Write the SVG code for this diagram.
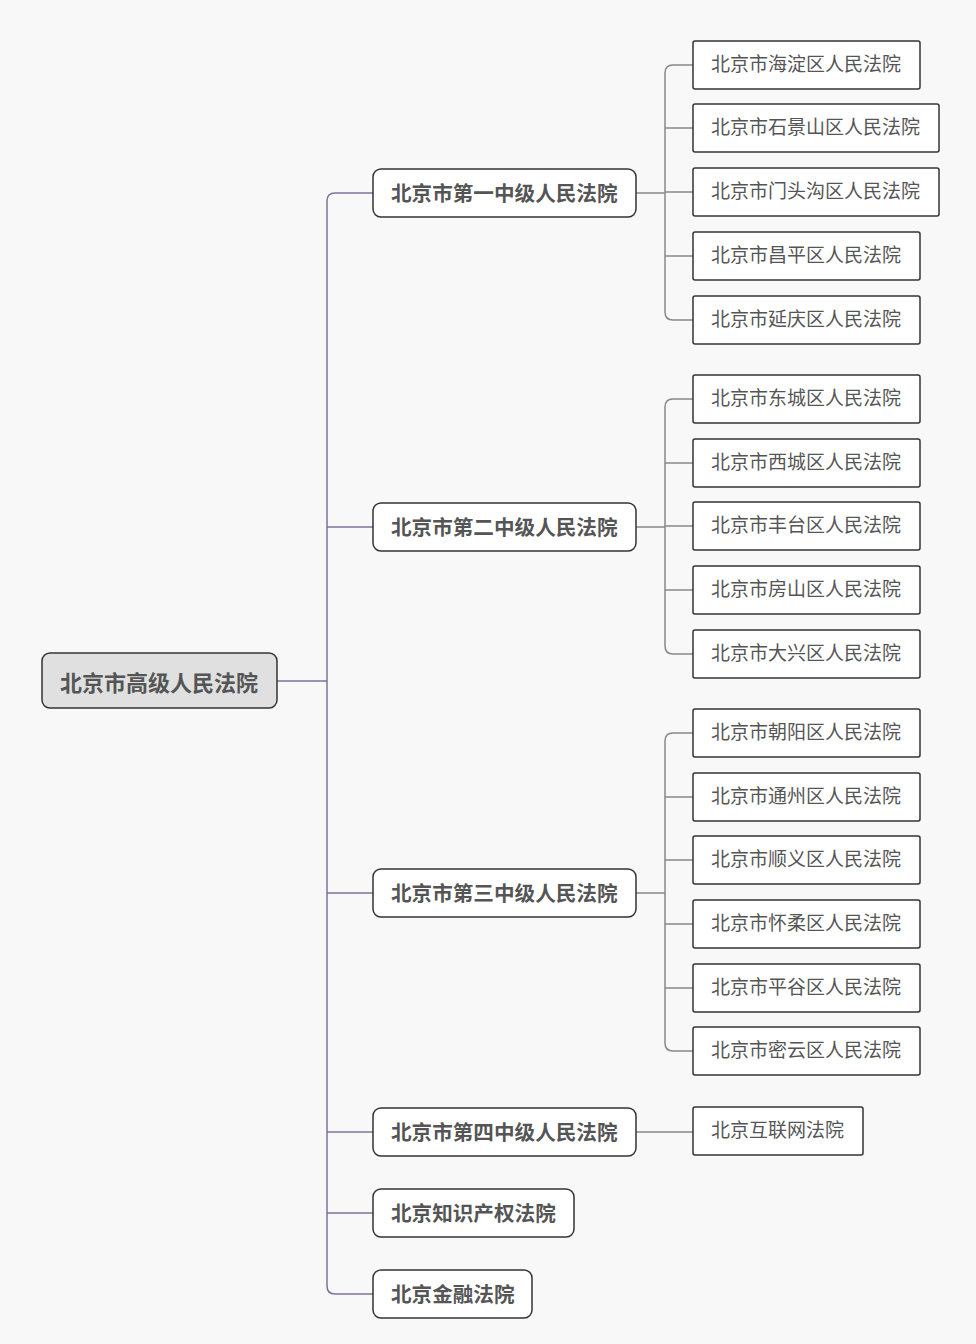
<svg xmlns="http://www.w3.org/2000/svg" width="976" height="1344" viewBox="0 0 976 1344">
<style>
.bg{fill:#f8f8f8}
.root{fill:#e0e0e0;stroke:#333;stroke-width:1.5}
.mid{fill:#fff;stroke:#333;stroke-width:1.5}
.leaf{fill:#fff;stroke:#333;stroke-width:1.5}
text{font-family:"Noto Sans CJK SC","Noto Sans",sans-serif;fill:#555;dominant-baseline:central}
.t0{font-size:22px;font-weight:bold}
.t1{font-size:20.6px;font-weight:bold}
.t2{font-size:19px}
.main{fill:none;stroke:#7d7399;stroke-width:1.5}
.sub{fill:none;stroke:#888;stroke-width:1.5}
</style>
<rect class="bg" width="976" height="1344"/>
<g id="connectors">
<path class="main" d="M277 681H327"/>
<path class="main" d="M373 193H335Q327 193 327 201V1286Q327 1294 335 1294H373"/>
<path class="main" d="M327 527H373M327 893H373M327 1132H373M327 1213H373"/>
<path class="sub" d="M636 193H665M693 65H673Q665 65 665 73V312Q665 320 673 320H693M665 128H693M665 192H693M665 256H693"/>
<path class="sub" d="M636 527H665M693 399H673Q665 399 665 407V646Q665 654 673 654H693M665 463H693M665 526H693M665 590H693"/>
<path class="sub" d="M636 893H665M693 733H673Q665 733 665 741V1043Q665 1051 673 1051H693M665 797H693M665 860H693M665 924H693M665 988H693"/>
<path class="sub" d="M636 1132H693"/>
</g>
<g id="root"><rect class="root" x="42" y="653" width="235" height="55" rx="8"/><text class="t0" x="60" y="681">北京市高级人民法院</text></g>
<g id="m1"><rect class="mid" x="373" y="169" width="263" height="48" rx="8"/><text class="t1" x="391" y="192">北京市第一中级人民法院</text></g>
<g id="m2"><rect class="mid" x="373" y="503" width="263" height="48" rx="8"/><text class="t1" x="391" y="526">北京市第二中级人民法院</text></g>
<g id="m3"><rect class="mid" x="373" y="869" width="263" height="48" rx="8"/><text class="t1" x="391" y="892">北京市第三中级人民法院</text></g>
<g id="m4"><rect class="mid" x="373" y="1108" width="263" height="48" rx="8"/><text class="t1" x="391" y="1131">北京市第四中级人民法院</text></g>
<g id="m5"><rect class="mid" x="373" y="1189" width="201" height="48" rx="8"/><text class="t1" x="391" y="1212">北京知识产权法院</text></g>
<g id="m6"><rect class="mid" x="373" y="1270" width="159" height="48" rx="8"/><text class="t1" x="391" y="1293">北京金融法院</text></g>
<g id="l1"><rect class="leaf" x="693" y="41" width="227" height="48" rx="2"/><text class="t2" x="711" y="62">北京市海淀区人民法院</text></g>
<g id="l2"><rect class="leaf" x="693" y="104" width="246" height="48" rx="2"/><text class="t2" x="711" y="125">北京市石景山区人民法院</text></g>
<g id="l3"><rect class="leaf" x="693" y="168" width="246" height="48" rx="2"/><text class="t2" x="711" y="189">北京市门头沟区人民法院</text></g>
<g id="l4"><rect class="leaf" x="693" y="232" width="227" height="48" rx="2"/><text class="t2" x="711" y="253">北京市昌平区人民法院</text></g>
<g id="l5"><rect class="leaf" x="693" y="296" width="227" height="48" rx="2"/><text class="t2" x="711" y="317">北京市延庆区人民法院</text></g>
<g id="l6"><rect class="leaf" x="693" y="375" width="227" height="48" rx="2"/><text class="t2" x="711" y="396">北京市东城区人民法院</text></g>
<g id="l7"><rect class="leaf" x="693" y="439" width="227" height="48" rx="2"/><text class="t2" x="711" y="460">北京市西城区人民法院</text></g>
<g id="l8"><rect class="leaf" x="693" y="502" width="227" height="48" rx="2"/><text class="t2" x="711" y="523">北京市丰台区人民法院</text></g>
<g id="l9"><rect class="leaf" x="693" y="566" width="227" height="48" rx="2"/><text class="t2" x="711" y="587">北京市房山区人民法院</text></g>
<g id="l10"><rect class="leaf" x="693" y="630" width="227" height="48" rx="2"/><text class="t2" x="711" y="651">北京市大兴区人民法院</text></g>
<g id="l11"><rect class="leaf" x="693" y="709" width="227" height="48" rx="2"/><text class="t2" x="711" y="730">北京市朝阳区人民法院</text></g>
<g id="l12"><rect class="leaf" x="693" y="773" width="227" height="48" rx="2"/><text class="t2" x="711" y="794">北京市通州区人民法院</text></g>
<g id="l13"><rect class="leaf" x="693" y="836" width="227" height="48" rx="2"/><text class="t2" x="711" y="857">北京市顺义区人民法院</text></g>
<g id="l14"><rect class="leaf" x="693" y="900" width="227" height="48" rx="2"/><text class="t2" x="711" y="921">北京市怀柔区人民法院</text></g>
<g id="l15"><rect class="leaf" x="693" y="964" width="227" height="48" rx="2"/><text class="t2" x="711" y="985">北京市平谷区人民法院</text></g>
<g id="l16"><rect class="leaf" x="693" y="1027" width="227" height="48" rx="2"/><text class="t2" x="711" y="1048">北京市密云区人民法院</text></g>
<g id="l17"><rect class="leaf" x="693" y="1107" width="170" height="48" rx="2"/><text class="t2" x="711" y="1128">北京互联网法院</text></g>
</svg>
